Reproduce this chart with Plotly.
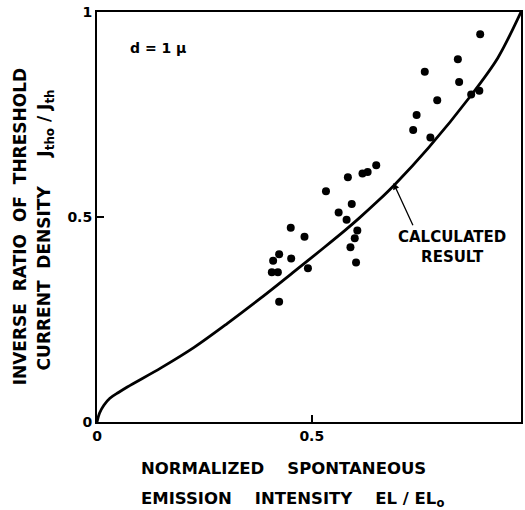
import plotly.graph_objects as go

# measured data points (normalized EL/EL0, inverse threshold ratio)
data_x = [0.892, 0.840, 0.763, 0.843, 0.871, 0.890, 0.792, 0.744, 0.736, 0.776,
          0.650, 0.630, 0.618, 0.584, 0.533, 0.593, 0.5625, 0.581, 0.451, 0.483,
          0.606, 0.600, 0.590, 0.603, 0.424, 0.410, 0.452, 0.491, 0.407, 0.421, 0.424]
data_y = [0.946, 0.885, 0.854, 0.829, 0.799, 0.808, 0.785, 0.749, 0.712, 0.694,
          0.626, 0.610, 0.606, 0.597, 0.563, 0.532, 0.511, 0.493, 0.474, 0.452,
          0.467, 0.448, 0.426, 0.389, 0.409, 0.393, 0.399, 0.375, 0.365, 0.365, 0.293]

# calculated result curve
calc_x = [0, 0.006, 0.016, 0.030, 0.050, 0.0715, 0.149, 0.226, 0.303, 0.381,
          0.458, 0.528, 0.578, 0.609, 0.655, 0.694, 0.771, 0.871, 0.933, 0.987]
calc_y = [0, 0.022, 0.041, 0.058, 0.072, 0.086, 0.132, 0.182, 0.240, 0.302,
          0.366, 0.425, 0.468, 0.496, 0.540, 0.580, 0.668, 0.797, 0.888, 1.0]

x_ticks = [0, 0.5]
x_tick_labels = ["0", "0.5"]
y_ticks = [0, 0.5, 1]
y_tick_labels = ["0", "0.5", "1"]

FONT = "DejaVu Sans"
NB = "\u00a0"
BOLD = "bold"

fig = go.Figure()
fig.add_trace(go.Scatter(x=calc_x, y=calc_y, mode="lines",
                         line=dict(color="black", width=2.8, shape="spline", smoothing=0.9),
                         showlegend=False))
fig.add_trace(go.Scatter(x=data_x, y=data_y, mode="markers",
                         marker=dict(color="black", size=8),
                         showlegend=False))

fig.update_layout(
    width=525, height=510,
    margin=dict(l=97, r=2, t=12, b=88),
    plot_bgcolor="white", paper_bgcolor="white",
    font=dict(family=FONT, color="black", size=14),
    xaxis=dict(range=[0, 0.987], tickvals=x_ticks, ticktext=x_tick_labels,
               showgrid=False, zeroline=False, showline=True, mirror=True,
               linecolor="black", linewidth=2, ticks="inside", ticklen=7,
               tickwidth=2, tickcolor="black",
               tickfont=dict(size=14, family=FONT, weight=BOLD)),
    yaxis=dict(range=[0, 1], tickvals=y_ticks, ticktext=y_tick_labels,
               showgrid=False, zeroline=False, showline=True, mirror=True,
               linecolor="black", linewidth=2, ticks="inside", ticklen=7,
               tickwidth=2, tickcolor="black",
               tickfont=dict(size=14, family=FONT, weight=BOLD)),
)

annotations = [
    dict(text="INVERSE" + NB*2 + "RATIO" + NB*2 + "OF" + NB*2 + "THRESHOLD",
         xref="paper", yref="paper", x=-0.1808, y=0.478, showarrow=False,
         textangle=-90, xanchor="center", yanchor="middle",
         font=dict(size=17, family=FONT, weight=BOLD)),
    dict(text="CURRENT" + NB*2 + "DENSITY" + NB*5 + "J<sub>tho</sub> / J<sub>th</sub>",
         xref="paper", yref="paper", x=-0.122, y=0.468, showarrow=False,
         textangle=-90, xanchor="center", yanchor="middle",
         font=dict(size=17, family=FONT, weight=BOLD)),
    dict(text="NORMALIZED" + NB*4 + "SPONTANEOUS",
         xref="paper", yref="paper", x=0.0986, y=-0.1146, showarrow=False,
         xanchor="left", yanchor="middle", font=dict(size=16.5, family=FONT, weight=BOLD)),
    dict(text="EMISSION" + NB*4 + "INTENSITY" + NB*4 + "EL / EL<sub>o</sub>",
         xref="paper", yref="paper", x=0.0986, y=-0.188, showarrow=False,
         xanchor="left", yanchor="middle", font=dict(size=16.5, family=FONT, weight=BOLD)),
    dict(text="d = 1 μ", xref="paper", yref="paper", x=0.143, y=0.912,
         showarrow=False, xanchor="center", yanchor="middle",
         font=dict(size=14, family=FONT, weight=BOLD)),
    dict(text="CALCULATED<br>RESULT", xref="x", yref="y", x=0.827, y=0.427,
         showarrow=False, xanchor="center", yanchor="middle",
         font=dict(size=15, family=FONT, weight=BOLD)),
    dict(text="", xref="x", yref="y", x=0.690, y=0.583, ax=0.737, ay=0.476,
         axref="x", ayref="y", showarrow=True, arrowhead=2, arrowsize=1,
         arrowwidth=1.3, arrowcolor="black"),
]
fig.update_layout(annotations=annotations)

fig.write_html("out.html")
